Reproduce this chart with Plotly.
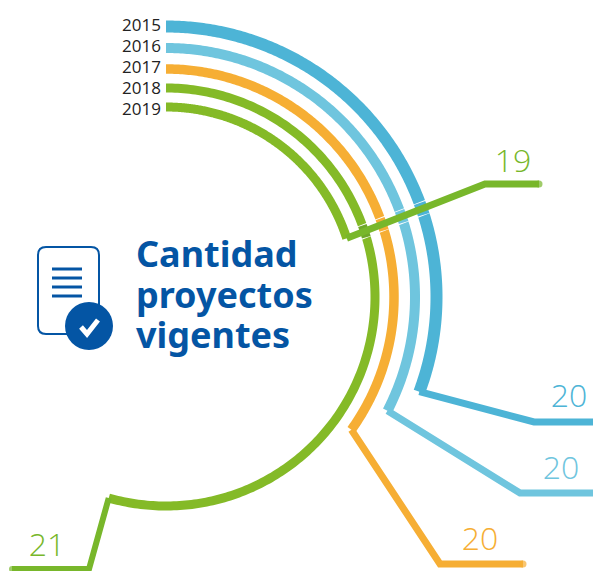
import numpy as np
import plotly.graph_objects as go

# Data
years = ["2015", "2016", "2017", "2018", "2019"]
values = [20, 20, 20, 21, 19]
arc_sweep_deg = [110.5, 117.2, 125.6, 195.9, 72.0]
title_lines = ["Cantidad", "proyectos", "vigentes"]

# Styling / layout
colors = ["#4DB4D6", "#6FC5DE", "#F6AE34", "#84BA27", "#84BA27"]
leader_colors = ["#4DB4D6", "#6FC5DE", "#F6AE34", "#78B72B", "#78B72B"]
radii = [270.5, 249, 228, 209, 190]
thick = [12, 10, 9.5, 9, 9]
leader_w = [7, 7, 7, 6, 7]
elbow_x = [534, 520, 440, 89, 485]
elbow_y = [422, 493, 564, 569, 184]
tail_x = [600, 600, 523, 12, 539]
label_x = [569, 561, 480, 47, 513]
label_y = [399, 471, 542, 548, 164]
year_y = [26.5, 47.5, 68.5, 89.5, 110.5]
title_y = [258, 299, 339]
CX, CY = 166, 297
BLUE = "#0455A4"


def polar(r, deg):
    a = np.radians(deg)
    return CX + r * np.sin(a), CY - r * np.cos(a)


fig = go.Figure()
# arcs
for i in range(5):
    t = np.linspace(0, arc_sweep_deg[i], 240)
    x, y = polar(radii[i], t)
    fig.add_trace(go.Scatter(x=x, y=y, mode="lines", line=dict(color=colors[i], width=thick[i], simplify=False)))

# white casing of the crossing leader, with short arc patches back on top
g = 4
sx, sy = polar(radii[g], arc_sweep_deg[g])
fig.add_trace(go.Scatter(x=[sx + 12, elbow_x[g]], y=[sy - 4.7, elbow_y[g]], mode="lines",
                         line=dict(color="white", width=14)))
lx = np.linspace(sx, elbow_x[g], 400)
ly = np.linspace(sy, elbow_y[g], 400)
ld = np.hypot(lx - CX, ly - CY)
for i in range(4):
    k = int(np.argmin(np.abs(ld - radii[i])))
    centre = np.degrees(np.arctan2(lx[k] - CX, CY - ly[k]))
    t = np.linspace(centre - 6.2 / radii[i] * 57.3, centre + 6.2 / radii[i] * 57.3, 10)
    x, y = polar(radii[i], t)
    fig.add_trace(go.Scatter(x=x, y=y, mode="lines",
                             line=dict(color=colors[i] if i != 3 else "#6FA82A", width=thick[i], simplify=False)))

# leaders
for i in range(5):
    sx, sy = polar(radii[i], arc_sweep_deg[i])
    fig.add_trace(go.Scatter(x=[sx, elbow_x[i], tail_x[i]], y=[sy, elbow_y[i], elbow_y[i]],
                             mode="lines+markers",
                             marker=dict(size=[0, 0, leader_w[i]], color=leader_colors[i], line=dict(width=0)),
                             line=dict(color=leader_colors[i], width=leader_w[i])))

# value labels
fig.add_trace(go.Scatter(x=label_x, y=label_y, mode="text", text=[str(v) for v in values],
                         textposition="middle center",
                         textfont=dict(family="Open Sans", size=32, weight=300, color=leader_colors)))
# year labels
fig.add_trace(go.Scatter(x=[161] * 5, y=year_y, mode="text", text=years, textposition="middle left",
                         textfont=dict(family="Open Sans", size=17, color="#222222")))

# title
fig.add_trace(go.Scatter(x=[136] * 3, y=title_y, mode="text", text=title_lines, textposition="middle right",
                         textfont=dict(family="Noto Sans", size=36, weight=700, color=BLUE)))

# icon
shapes = [
    dict(type="path", path="M46 247 H91 Q99 247 99 255 V326 Q99 334 91 334 H46 Q38 334 38 326 V255 Q38 247 46 247 Z",
         line=dict(color=BLUE, width=2), fillcolor="white"),
]
for yy in [269, 278, 287, 296]:
    shapes.append(dict(type="line", x0=52, x1=82, y0=yy, y1=yy, line=dict(color=BLUE, width=3)))
shapes.append(dict(type="circle", x0=65, x1=113, y0=302, y1=350, fillcolor=BLUE, line=dict(width=0)))
shapes.append(dict(type="path", path="M81 327 L87 334 L98 320", line=dict(color="white", width=5)))

fig.update_layout(
    width=593, height=571, margin=dict(l=0, r=0, t=0, b=0), showlegend=False,
    paper_bgcolor="white", plot_bgcolor="white", shapes=shapes, hovermode=False,
    xaxis=dict(range=[0, 593], visible=False, fixedrange=True),
    yaxis=dict(range=[571, 0], visible=False, fixedrange=True),
)
fig.write_html("out.html", config={"displayModeBar": False},
               post_script="document.body.style.margin='0';document.body.style.overflow='hidden';")
